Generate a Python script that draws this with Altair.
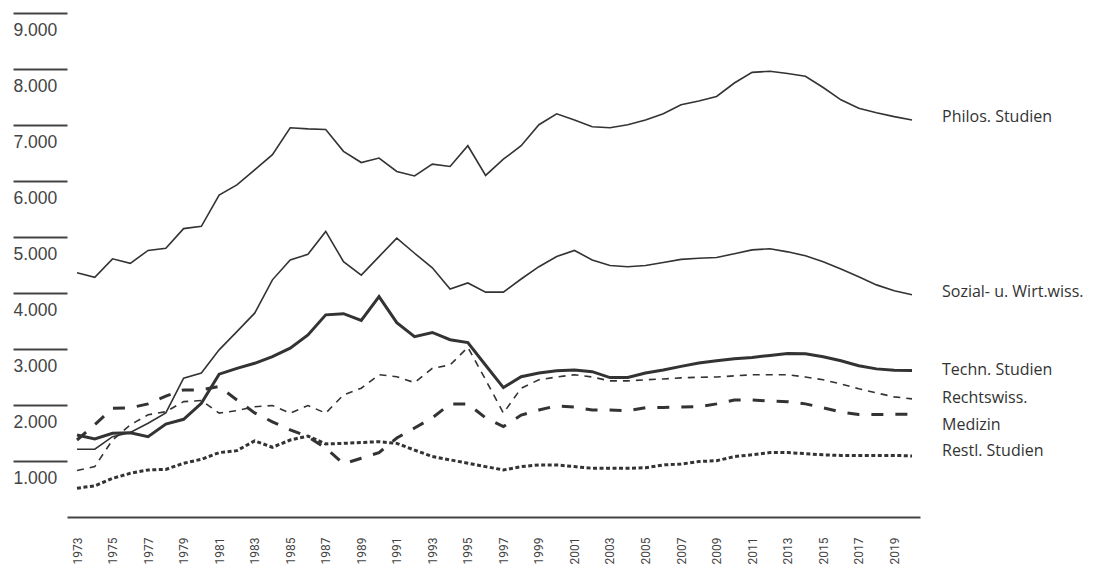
import altair as alt
import pandas as pd

years = list(range(1973, 2021))

philos = [4360, 4280, 4610, 4530, 4760, 4800, 5150, 5190, 5750, 5930,
          6200, 6470, 6950, 6930, 6920, 6530, 6330, 6410, 6170, 6090,
          6300, 6260, 6630, 6100, 6390, 6630, 7005, 7200, 7090, 6970,
          6950, 7005, 7090, 7200, 7360, 7430, 7510, 7750, 7940, 7960,
          7920, 7870, 7670, 7450, 7300, 7220, 7150, 7090]
sozial = [1210, 1210, 1435, 1510, 1675, 1860, 2480, 2570, 2985, 3310,
          3640, 4235, 4590, 4690, 5100, 4560, 4320, 4650, 4980, 4710,
          4450, 4070, 4180, 4015, 4015, 4250, 4470, 4650, 4760, 4590,
          4490, 4470, 4490, 4545, 4600, 4620, 4635, 4700, 4770, 4790,
          4735, 4665, 4560, 4430, 4290, 4145, 4040, 3970]
techn = [1465, 1395, 1495, 1505, 1435, 1660, 1745, 2030, 2550, 2655,
         2745, 2865, 3015, 3250, 3610, 3630, 3510, 3935, 3470, 3220,
         3295, 3165, 3115, 2710, 2310, 2505, 2570, 2610, 2625, 2595,
         2490, 2490, 2570, 2625, 2690, 2750, 2790, 2825, 2850, 2885,
         2920, 2915, 2860, 2790, 2700, 2645, 2620, 2615]
recht = [830, 900, 1375, 1645, 1825, 1880, 2060, 2080, 1855, 1900,
         1970, 1990, 1855, 1990, 1855, 2180, 2300, 2540, 2505, 2400,
         2655, 2715, 3030, 2450, 1855, 2300, 2450, 2500, 2540, 2500,
         2430, 2430, 2450, 2465, 2485, 2495, 2500, 2520, 2540, 2540,
         2540, 2500, 2450, 2375, 2290, 2215, 2145, 2110]
medizin = [1375, 1650, 1940, 1950, 2020, 2160, 2270, 2270, 2330, 2090,
           1860, 1700, 1555, 1435, 1230, 950, 1050, 1150, 1410, 1590,
           1770, 2020, 2020, 1770, 1615, 1820, 1910, 1985, 1965, 1910,
           1910, 1900, 1950, 1955, 1965, 1970, 2020, 2090, 2090, 2070,
           2060, 2020, 1950, 1875, 1830, 1830, 1835, 1835]
restl = [515, 555, 690, 780, 840, 850, 960, 1030, 1150, 1185,
         1360, 1245, 1375, 1445, 1305, 1315, 1330, 1345, 1315, 1195,
         1080, 1020, 960, 900, 840, 900, 930, 930, 900, 870,
         870, 870, 880, 930, 945, 990, 1005, 1080, 1110, 1150,
         1150, 1130, 1110, 1100, 1100, 1100, 1100, 1090]

series_names = ["Philos. Studien", "Sozial- u. Wirt.wiss.", "Techn. Studien",
                "Rechtswiss.", "Medizin", "Restl. Studien"]
series_values = [philos, sozial, techn, recht, medizin, restl]

rows = []
for name, vals in zip(series_names, series_values):
    for yr, v in zip(years, vals):
        rows.append({"Jahr": yr, "Anzahl": v, "Studienrichtung": name})
df = pd.DataFrame(rows)

# line styles (width, dash)
styles = {
    "Philos. Studien": (1.6, None),
    "Sozial- u. Wirt.wiss.": (1.6, None),
    "Techn. Studien": (3.0, None),
    "Rechtswiss.": (1.6, [7, 6]),
    "Medizin": (3.0, [12, 12]),
    "Restl. Studien": (3.0, [4, 2.5]),
}
label_dy = {
    "Philos. Studien": -3,
    "Sozial- u. Wirt.wiss.": -3,
    "Techn. Studien": -1,
    "Rechtswiss.": -1,
    "Medizin": 11,
    "Restl. Studien": -5,
}

INK = "#333333"
AXC = "#444444"

x_scale = alt.Scale(domain=[1972.437, 2020.45], nice=False, zero=False)
y_scale = alt.Scale(domain=[0, 9000], nice=False, zero=True)

x_axis = alt.Axis(
    values=list(range(1973, 2020, 2)), format="d", labelAngle=270,
    ticks=False, grid=False, domain=True, domainColor=AXC, domainWidth=2,
    labelFont="Roboto", labelFontSize=12, labelColor=AXC,
    labelPadding=20, labelOverlap=False, labelFlush=False, title=None,
)
y_axis = alt.Axis(
    values=list(range(1000, 10000, 1000)),
    labelExpr="replace(format(datum.value, ','), ',', '.')",
    ticks=True, tickSize=54, tickWidth=2, tickColor=AXC,
    domain=False, grid=False, labelAlign="left", labelPadding=0,
    labelOffset=17, labelFont="Liberation Sans", labelFontSize=17.5,
    labelColor=AXC, labelOverlap=False, labelFlush=False, title=None,
)

X = alt.X("Jahr:Q", scale=x_scale, axis=x_axis)
Y = alt.Y("Anzahl:Q", scale=y_scale, axis=y_axis)

layers = []
for name in series_names:
    w, dash = styles[name]
    kw = dict(color=INK, strokeWidth=w, strokeCap="butt", strokeJoin="miter")
    if dash is not None:
        kw["strokeDash"] = dash
    layers.append(
        alt.Chart(df)
        .transform_filter(alt.datum.Studienrichtung == name)
        .mark_line(**kw)
        .encode(x=X, y=Y)
    )
for name in series_names:
    layers.append(
        alt.Chart(df)
        .transform_filter((alt.datum.Studienrichtung == name) & (alt.datum.Jahr == years[-1]))
        .mark_text(align="left", baseline="middle", dx=30, dy=label_dy[name],
                   font="Open Sans", fontSize=16, color=INK)
        .encode(x=X, y=Y, text="Studienrichtung:N")
    )

chart = (
    alt.layer(*layers)
    .properties(
        width=853, height=504,
        padding={"left": 59, "top": 5, "right": 176, "bottom": 47},
        autosize=alt.AutoSizeParams(type="none"),
        background="white",
    )
    .configure_view(stroke=None)
)

chart.save("out.html", embed_options={"renderer": "svg", "actions": False})
